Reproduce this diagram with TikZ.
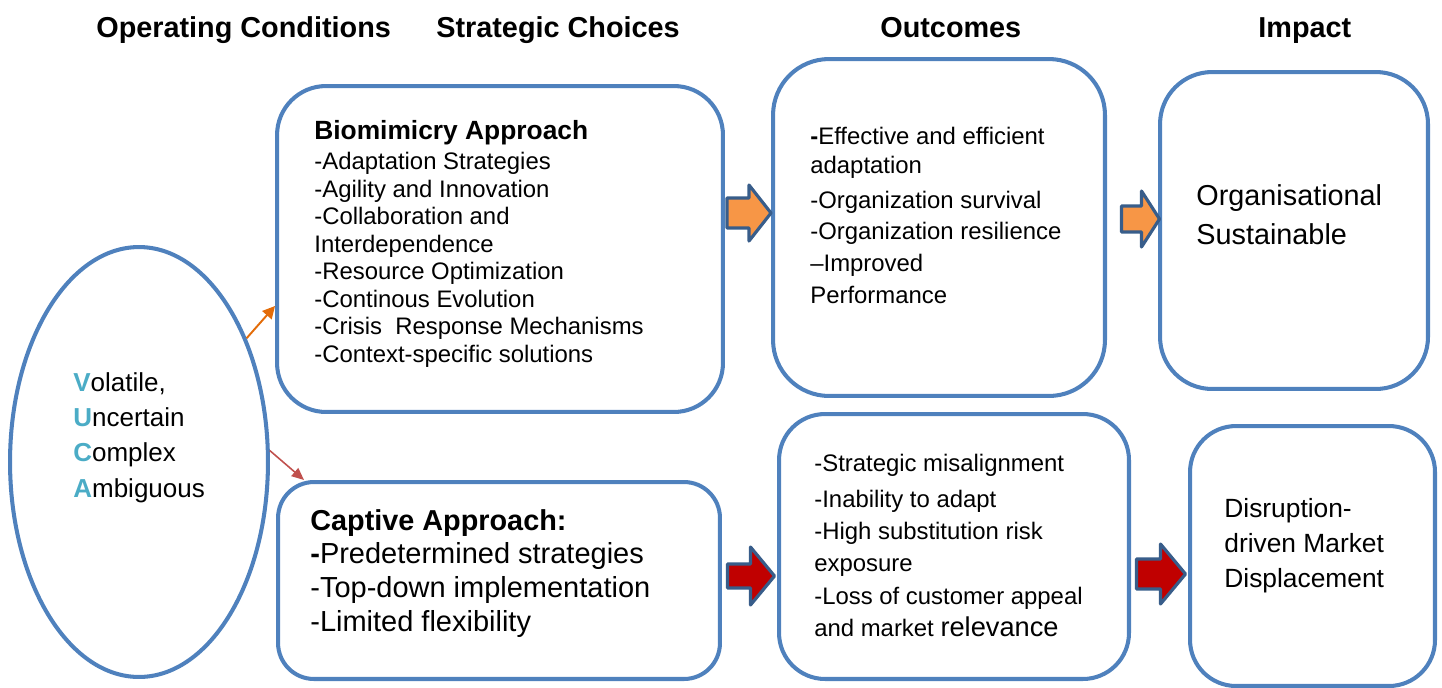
\documentclass[tikz,border=0pt]{standalone}
\usepackage{fontspec}
\setmainfont{Liberation Sans}
\usetikzlibrary{shapes.geometric,arrows.meta,positioning}

\definecolor{boxblue}{HTML}{4F81BD}
\definecolor{arrowblue}{HTML}{385D8A}
\definecolor{fillorange}{HTML}{F79646}
\definecolor{fillred}{HTML}{C00000}
\definecolor{lineorange}{HTML}{E36C09}
\definecolor{linered}{HTML}{C0504D}
\definecolor{vucacyan}{HTML}{4BACC6}

\newcommand{\px}{0.02cm}
\newcommand{\vl}[1]{\textcolor{vucacyan}{\textbf{#1}}}
% block arrow: start, fill, half shaft, half head, shaft length, head length
\newcommand{\fatarrow}[6]{%
  \draw[fatline,fill=#2] (#1) ++(0,-#3) -- ++(#5,0) -- ++(0,{#3-#4})
    -- ++(#6,#4) -- ++(-#6,#4) -- ++(0,{#3-#4}) -- ++(-#5,0) -- cycle;}

\tikzset{
  box/.style={draw=boxblue, line width=2.3pt, rectangle, inner sep=0},
  fatline/.style={draw=arrowblue, line width=1.8pt, line join=round},
  txt/.style={inner sep=0, anchor=base west, align=left},
  heading/.style={txt, font=\fontsize{16.4}{20}\selectfont\bfseries},
}

\begin{document}
\begin{tikzpicture}[x=\px, y=-\px]
\useasboundingbox (0,0) rectangle (1442,687);

\node[heading] (hcond) at (96,37) {Operating Conditions};
\node[heading] (hchoice) at (436,37) {Strategic Choices};
\node[heading] (hout) at (880,37) {Outcomes};
\node[heading] (himp) at (1258,37) {Impact};

\node[draw=boxblue, line width=2.3pt, ellipse, minimum width=5.16cm, minimum height=8.6cm] (vuca) at (139,462) {};
\node[box, rounded corners=0.98cm, minimum width=8.92cm, minimum height=6.52cm] (bio) at (500,249) {};
\node[box, rounded corners=0.72cm, minimum width=8.84cm, minimum height=3.94cm] (cap) at (499,580.5) {};
\node[box, rounded corners=1.12cm, minimum width=6.64cm, minimum height=6.74cm] (outgood) at (939,227.5) {};
\node[box, rounded corners=0.92cm, minimum width=7.0cm, minimum height=5.3cm] (outbad) at (954,546.5) {};
\node[box, rounded corners=1.04cm, minimum width=5.36cm, minimum height=6.34cm] (impgood) at (1294,230.5) {};
\node[box, rounded corners=0.92cm, minimum width=4.9cm, minimum height=5.2cm] (impbad) at (1312.5,556) {};

% multi-line texts sit on the baseline of their last line
\node[txt, font=\fontsize{14.8}{20.1}\selectfont] (vucatxt) at (73,497)
  {\vl{V}olatile,\\\vl{U}ncertain\\\vl{C}omplex\\\vl{A}mbiguous};

\node[txt, font=\fontsize{15}{18}\selectfont\bfseries] (biohead) at (314,139) {Biomimicry Approach};
\node[txt, font=\fontsize{13.6}{15.7}\selectfont] (bioitems) at (314,362.5)
  {-Adaptation Strategies\\-Agility and Innovation\\-Collaboration and\\Interdependence\\-Resource Optimization\\-Continous Evolution\\-Crisis\ \ Response Mechanisms\\-Context-specific solutions};

\node[txt, font=\fontsize{16.4}{20}\selectfont\bfseries] (caphead) at (310,530) {Captive Approach:};
\node[txt, font=\fontsize{16.5}{19.3}\selectfont] (capitems) at (310,631)
  {{\bfseries-}Predetermined strategies\\-Top-down implementation\\-Limited flexibility};

\node[txt, font=\fontsize{13.6}{18.1}\selectfont] (outgoodtxt) at (810,303.5)
  {{\bfseries-}Effective and efficient\\[-1.7pt]adaptation\\[1.7pt]-Organization survival\\-Organization resilience\\--Improved\\Performance};
\node[txt, font=\fontsize{13.6}{18.4}\selectfont] (outbadtxt) at (814,636.5)
  {-Strategic misalignment\\[2pt]-Inability to adapt\\-High substitution risk\\exposure\\-Loss of customer appeal\\and market {\fontsize{15.5}{18}\selectfont relevance}};

\node[txt, font=\fontsize{16.4}{22.1}\selectfont] (impgoodtxt) at (1196,244) {Organisational\\Sustainable};
\node[txt, font=\fontsize{15}{19.8}\selectfont] (impbadtxt) at (1224,587.5) {Disruption-\\driven Market\\Displacement};

\draw[-{Triangle[length=7pt,width=7pt]}, lineorange, line width=1.1pt] (vuca.49) -- ([yshift=-1.14cm]bio.west);
\draw[-{Triangle[length=7pt,width=6pt]}, linered, line width=0.9pt] (vuca.5) -- ([xshift=-3.9cm]cap.north);

\coordinate (fa1) at (727,213);
\coordinate (fa2) at (1121.5,219);
\coordinate (fa3) at (727.5,576);
\coordinate (fa4) at (1136.5,574);
\fatarrow{fa1}{fillorange}{15}{28}{22}{22}
\fatarrow{fa2}{fillorange}{13}{28}{20}{18}
\fatarrow{fa3}{fillred}{12}{29}{23}{24}
\fatarrow{fa4}{fillred}{15}{30}{24}{25}
\end{tikzpicture}
\end{document}
